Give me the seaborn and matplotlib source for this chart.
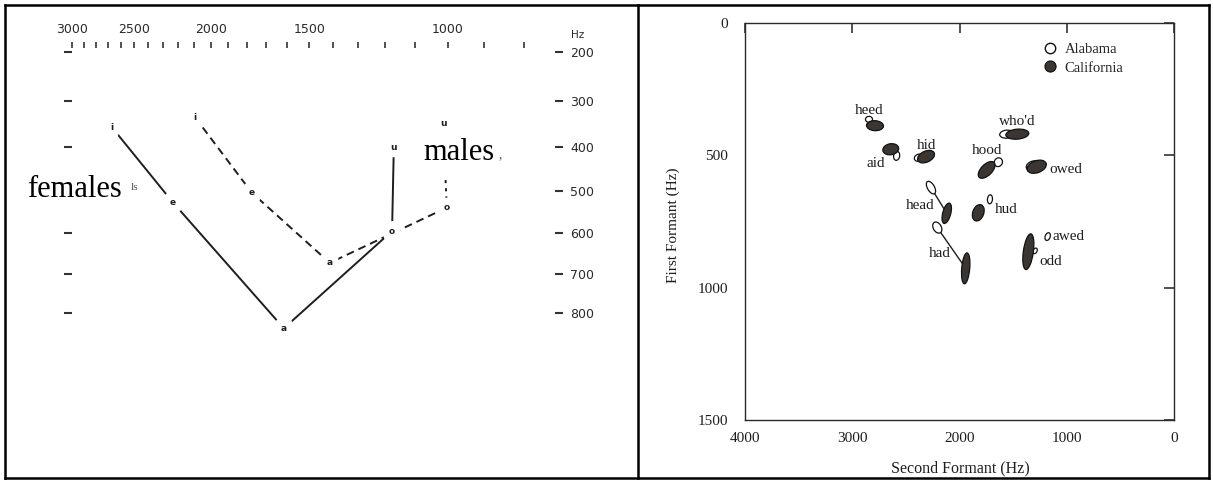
import numpy as np
import pandas as pd
import matplotlib
matplotlib.use("Agg")
import matplotlib.pyplot as plt
import matplotlib.transforms as mtransforms
from matplotlib.patches import Ellipse
from matplotlib.lines import Line2D
from matplotlib.ticker import FixedLocator, NullFormatter, FuncFormatter
import seaborn as sns

# ---------------- data: left panel (formant chart, Hz) ----------------
vowels = ["i", "e", "a", "o", "u"]
female_f2 = [2669, 2233, 1615, 1177, 1171]
female_f1 = [356, 527, 839, 595, 400]
male_f2 = [2094, 1773, 1412, 1003, 1014]
male_f1 = [334, 504, 673, 539, 347]
left_f2_ticks = [3000, 2500, 2000, 1500, 1000]
left_f2_minor = [f for f in range(800, 3000, 100) if f not in (1000, 1500, 2000, 2500)]
left_f1_ticks = [200, 300, 400, 500, 600, 700, 800]

# ---------------- data: right panel (Alabama vs California) ----------------
words = ["heed", "aid", "hid", "who'd", "hood", "owed", "head", "hud", "had", "odd", "awed"]
alabama_f2 = [2844, 2586, 2380, 1560, 1638, 1315, 2266, 1716, 2207, 1296, 1178]
alabama_f1 = [364, 502, 509, 420, 526, 539, 622, 666, 773, 861, 807]
california_f2 = [2788, 2641, 2312, 1461, 1747, 1280, 2119, 1825, 1942, 1358, np.nan]
california_f1 = [388, 477, 505, 420, 555, 543, 719, 717, 927, 864, np.nan]
connected = ["head", "had"]
right_f2_ticks = [4000, 3000, 2000, 1000, 0]
right_f1_ticks = [0, 500, 1000, 1500]

# ---------------- styles (marker shapes in px: width, height, angle) ----------------
cal_shape = {"heed": (17, 10, -3), "aid": (16, 11, 10), "hid": (18, 11, 25),
             "who'd": (23, 10, 5), "hood": (21, 11, 45), "owed": (20, 12, 20),
             "head": (21, 8, 75), "hud": (17, 11, 70), "had": (31, 8, 85),
             "odd": (36, 10, 82)}
ala_shape = {"heed": (7, 6, 0), "aid": (9, 6, 80), "hid": (9, 7, 20),
             "who'd": (14, 8, 5), "hood": (9, 8, 60), "owed": (14, 9, 20),
             "head": (14, 7, -60), "hud": (9, 5, 85), "had": (12, 8, -60),
             "odd": (6, 4, 60), "awed": (8, 5, 70)}
label_off = {"heed": (-6, -15, "center"), "aid": (-6, 14, "right"), "hid": (0, -11, "center"),
             "who'd": (0, -13, "center"), "hood": (0, -19, "center"), "owed": (13, 3, "left"),
             "head": (-12, -8, "right"), "hud": (17, -3, "left"), "had": (-15, -15, "right"),
             "odd": (11, 10, "left"), "awed": (5, 0, "left")}

sns.set_style("white")
SERIF = ["Liberation Serif", "DejaVu Serif"]
SANS = ["DejaVu Sans"]
INK = "#1e1e1e"
FILL = "#3b3632"

W, H = 1213, 482
fig = plt.figure(figsize=(W / 100, H / 100), dpi=100)
def fx(px): return px / W
def fy(py): return 1 - py / H

# ================= left panel =================
axL = fig.add_axes([fx(72), fy(351.7), fx(555) - fx(72), fy(48) - fy(351.7)])
axL.patch.set_alpha(0)
axL.set_xscale("log")
axL.set_yscale("function", functions=(lambda v: np.sign(v) * np.abs(v) ** 0.8,
                                      lambda v: np.sign(v) * np.abs(v) ** 1.25))

fem = pd.DataFrame({"F2": female_f2, "F1": female_f1})
sns.lineplot(data=fem, x="F2", y="F1", sort=False, estimator=None, ax=axL,
             color=INK, lw=1.4)
mal = pd.DataFrame({"F2": male_f2, "F1": male_f1})
sns.lineplot(data=mal.iloc[:4], x="F2", y="F1", sort=False, estimator=None, ax=axL,
             color=INK, lw=1.4, linestyle=(0, (4, 2.6)))
sns.lineplot(data=mal.iloc[3:], x="F2", y="F1", sort=False, estimator=None, ax=axL,
             color=INK, lw=1.4, linestyle=(0, (1.6, 2.6)))

for f2s, f1s in ((female_f2, female_f1), (male_f2, male_f1)):
    for v, x, y in zip(vowels, f2s, f1s):
        axL.text(x, y, v, ha="center", va="center", fontsize=6.5, fontweight="bold",
                 family=SANS, color=INK,
                 bbox=dict(boxstyle="round,pad=0.6", fc="white", ec="none"), zorder=5)

axL.set_xlim(3000, 731)
axL.set_ylim(900, 192.2)
axL.xaxis.set_major_locator(FixedLocator(left_f2_ticks))
axL.xaxis.set_major_formatter(FuncFormatter(lambda v, p: f"{int(v)}"))
axL.xaxis.set_minor_locator(FixedLocator(left_f2_minor))
axL.xaxis.set_minor_formatter(NullFormatter())
axL.xaxis.tick_top()
axL.tick_params(axis="x", which="both", top=True, bottom=False, labeltop=True,
                labelbottom=False, direction="out", length=4.3, width=1.2,
                color="#333333", pad=4.5, labelsize=9, labelcolor="#2a2a2a")
axL.yaxis.set_major_locator(FixedLocator(left_f1_ticks))
axL.yaxis.set_major_formatter(FuncFormatter(lambda v, p: f"{int(v)}"))
axL.yaxis.set_minor_locator(FixedLocator([]))
axL.tick_params(axis="y", which="major", left=True, right=True, labelleft=False,
                labelright=True, direction="out", length=6, width=1.5,
                color="#333333", pad=5, labelsize=9, labelcolor="#2a2a2a")
for lab in axL.get_xticklabels() + axL.get_yticklabels():
    lab.set_family(SANS)
for s in axL.spines.values():
    s.set_visible(False)
axL.set_xlabel("")
axL.set_ylabel("")

fig.text(fx(578), fy(35), "Hz", fontsize=7.5, family=SANS, color="#2a2a2a",
         ha="center", va="center")
fig.text(fx(27), fy(197), "females", fontsize=22, family=SERIF, color="black",
         ha="left", va="baseline", zorder=10,
         bbox=dict(boxstyle="square,pad=0.1", fc="white", ec="none"))
fig.text(fx(131), fy(190), "ls", fontsize=8, family=SERIF, color="#555555",
         ha="left", va="baseline", zorder=11)
fig.text(fx(423), fy(160), "males", fontsize=22, family=SERIF, color="black",
         ha="left", va="baseline", zorder=10,
         bbox=dict(boxstyle="square,pad=0.25", fc="white", ec="none"))
fig.text(fx(499), fy(158), ",", fontsize=10, family=SERIF, color="#555555",
         ha="left", va="baseline", zorder=11)

# ================= right panel =================
axR = fig.add_axes([fx(745), fy(420), fx(1174) - fx(745), fy(23) - fy(420)])

conn = pd.DataFrame({
    "word": [w for w in words if w in connected] * 2,
    "F2": [a for w, a in zip(words, alabama_f2) if w in connected]
          + [c for w, c in zip(words, california_f2) if w in connected],
    "F1": [a for w, a in zip(words, alabama_f1) if w in connected]
          + [c for w, c in zip(words, california_f1) if w in connected],
})
sns.lineplot(data=conn, x="F2", y="F1", units="word", estimator=None, sort=False,
             ax=axR, color=INK, lw=1.0, zorder=1)

axR.set_xlim(4000, 0)
axR.set_ylim(1500, 0)

def add_ellipse(x, y, shape, fc, z):
    w, h, ang = shape
    tr = fig.dpi_scale_trans + mtransforms.ScaledTranslation(x, y, axR.transData)
    e = Ellipse((0, 0), w / 100, h / 100, angle=ang, transform=tr, fc=fc,
                ec="#111111", lw=0.9, zorder=z)
    axR.add_artist(e)

for w, x, y in zip(words, california_f2, california_f1):
    if not np.isnan(x):
        add_ellipse(x, y, cal_shape[w], FILL, 3)
for w, x, y in zip(words, alabama_f2, alabama_f1):
    add_ellipse(x, y, ala_shape[w], "white", 2)

for w, xa, ya, xc, yc in zip(words, alabama_f2, alabama_f1, california_f2, california_f1):
    x, y = (xa, ya) if np.isnan(xc) else (xc, yc)
    dx, dy, ha = label_off[w]
    axR.annotate(w, xy=(x, y), xytext=(dx * 0.72, -dy * 0.72), textcoords="offset points",
                 ha=ha, va="center", fontsize=11, family=SERIF, color=INK, zorder=6)

axR.set_xticks(right_f2_ticks)
axR.set_yticks(right_f1_ticks)
axR.xaxis.set_major_formatter(FuncFormatter(lambda v, p: f"{int(v)}"))
axR.yaxis.set_major_formatter(FuncFormatter(lambda v, p: f"{int(v)}"))
axR.tick_params(direction="in", length=7.2, width=1.1, top=True, right=True,
                labeltop=False, labelright=False, color="#222222",
                labelsize=11, labelcolor=INK)
axR.tick_params(axis="y", pad=12)
axR.tick_params(axis="x", pad=8.5)
for lab in axR.get_xticklabels() + axR.get_yticklabels():
    lab.set_family(SERIF)
for s in axR.spines.values():
    s.set_linewidth(1.0)
    s.set_color("#2a2a2a")

axR.set_xlabel("Second Formant (Hz)", fontsize=11.5, family=SERIF, color=INK)
axR.set_ylabel("First Formant (Hz)", fontsize=11, family=SERIF, color=INK)
axR.xaxis.set_label_coords(0.501, -0.123)
axR.xaxis.label.set_va("center")
axR.yaxis.set_label_coords(-0.168, 0.49)
axR.yaxis.label.set_va("center")

handles = [Line2D([], [], marker="o", ls="", ms=7.5, mfc="white", mec="#111111", mew=1,
                  label="Alabama"),
           Line2D([], [], marker="o", ls="", ms=8, mfc=FILL, mec="#111111", mew=0.8,
                  label="California")]
axR.legend(handles=handles, loc="upper left", bbox_to_anchor=(0.6946, 0.9496),
           frameon=False, prop={"family": SERIF, "size": 10.5}, handlelength=1.0,
           handletextpad=0.5, labelspacing=0.35, borderpad=0, borderaxespad=0)

# ================= frame of the two cells =================
def frame_line(x0, y0, x1, y1):
    fig.add_artist(Line2D([fx(x0), fx(x1)], [fy(y0), fy(y1)], transform=fig.transFigure,
                          color="black", lw=1.8, solid_capstyle="projecting"))
frame_line(5, 5, 1209, 5)
frame_line(5, 478, 1209, 478)
frame_line(5, 5, 5, 478)
frame_line(1209, 5, 1209, 478)
frame_line(638, 5, 638, 478)

fig.savefig("out.png", dpi=100, facecolor="white")
